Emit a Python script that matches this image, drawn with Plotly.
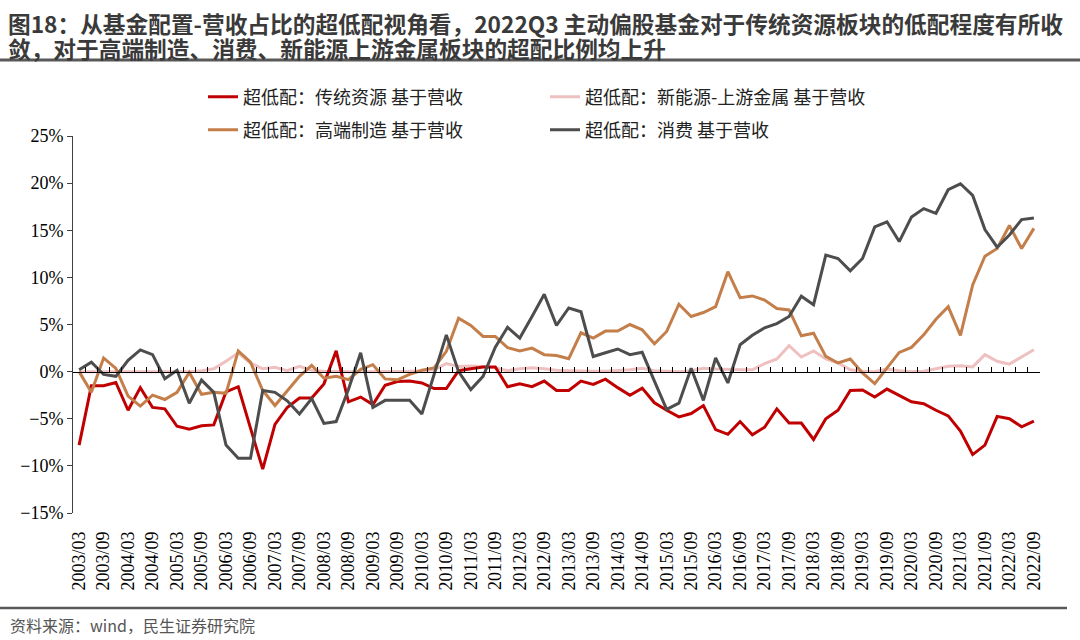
import plotly.graph_objects as go

# quarterly dates 2003/03 .. 2022/09
dates = [f"{y}/{m:02d}" for y in range(2003, 2023) for m in (3, 6, 9, 12)][:79]

trad = [-7.8, -1.5, -1.5, -1.15, -4.1, -1.7, -3.8, -3.95, -5.8, -6.1,
        -5.75, -5.65, -2.15, -1.6, -6.0, -10.35, -5.6, -3.8, -2.8, -2.8,
        -1.3, 2.2, -3.2, -2.7, -3.5, -1.45, -1.05, -1.0, -1.2, -1.8,
        -1.8, 0.1, 0.3, 0.5, 0.5, -1.6, -1.3, -1.6, -1.0, -2.0,
        -2.0, -1.0, -1.35, -0.8, -1.7, -2.5, -1.75, -3.3, -4.1, -4.8,
        -4.45, -3.6, -6.15, -6.65, -5.3, -6.7, -5.9, -3.95, -5.45, -5.45,
        -7.2, -5.0, -4.1, -2.0, -1.95, -2.7, -1.85, -2.5, -3.2, -3.4,
        -4.1, -4.7, -6.3, -8.8, -7.8, -4.75, -5.0, -5.85, -5.25]

newe = [0.0, 0.0, 0.0, 0.0, 0.05, 0.05, 0.05, 0.05, 0.0, 0.0,
        0.1, 0.3, 1.1, 2.0, 0.9, 0.3, 0.45, 0.1, 0.55, 0.15,
        0.05, 0.0, 0.0, 0.0, 0.0, 0.0, 0.0, 0.05, 0.1, 0.2,
        0.85, 0.55, 0.6, 0.55, 0.4, 0.1, 0.3, 0.4, 0.3, 0.15,
        0.1, 0.05, 0.05, 0.05, 0.1, 0.2, 0.35, 0.1, 0.05, 0.0,
        0.1, 0.35, 0.28, 0.2, 0.2, 0.2, 0.85, 1.34, 2.75, 1.55,
        2.2, 1.34, 0.92, 0.2, 0.05, 0.0, 0.28, 0.1, 0.0, 0.03,
        0.28, 0.56, 0.63, 0.5, 1.8, 1.1, 0.8, 1.55, 2.32]

high = [0.0, -2.2, 1.45, 0.35, -2.6, -3.66, -2.5, -2.96, -2.2, -0.1,
        -2.4, -2.2, -2.3, 2.2, 1.0, -2.0, -3.6, -2.1, -0.5, 0.67,
        -0.7, -0.5, -0.85, 0.25, 0.74, -0.77, -0.87, -0.3, 0.15, 0.4,
        2.15, 5.67, 4.9, 3.73, 3.73, 2.55, 2.2, 2.5, 1.8, 1.7,
        1.37, 4.12, 3.56, 4.3, 4.3, 5.0, 4.44, 2.95, 4.26, 7.15,
        5.85, 6.27, 6.9, 10.6, 7.85, 8.03, 7.6, 6.7, 6.55, 3.8,
        4.08, 1.62, 0.92, 1.34, -0.14, -1.27, 0.39, 2.04, 2.57, 3.9,
        5.56, 6.9, 3.84, 9.2, 12.25, 13.06, 15.5, 13.06, 15.2]

cons = [0.2, 1.0, -0.3, -0.5, 1.2, 2.3, 1.8, -0.75, 0.14, -3.35,
        -0.9, -2.2, -7.8, -9.2, -9.2, -2.0, -2.2, -3.1, -4.5, -2.85,
        -5.5, -5.3, -1.9, 2.0, -3.8, -3.05, -3.05, -3.05, -4.5, -0.3,
        3.9, 0.0, -1.9, -0.5, 2.6, 4.7, 3.56, 5.85, 8.2, 4.9,
        6.75, 6.35, 1.6, 2.0, 2.4, 1.8, 2.05, -1.0, -4.0, -3.35,
        0.35, -3.05, 1.45, -1.2, 2.85, 3.85, 4.65, 5.1, 5.85, 8.0,
        7.1, 12.36, 12.0, 10.7, 12.0, 15.35, 15.9, 13.8, 16.4, 17.3,
        16.8, 19.3, 19.93, 18.7, 15.07, 13.2, 14.5, 16.13, 16.3]

names = ["超低配：传统资源 基于营收", "超低配：新能源-上游金属 基于营收",
         "超低配：高端制造 基于营收", "超低配：消费 基于营收"]
colors = ["#C00000", "#EFC0C0", "#C47E4A", "#4D4D4D"]

tick_labels = dates[::2]
idx = list(range(len(dates)))

W, H = 1080, 640
L, R, T, B = 73, 40, 136, 127
pw, ph = W - L - R, H - T - B


def px(x):
    return (x - L) / pw


def py(y):
    return (H - B - y) / ph


fig = go.Figure()
# draw order: pink, red, orange, gray
order = [(1, "legend", 2), (0, "legend", 1), (2, "legend2", 1), (3, "legend2", 2)]
series = [trad, newe, high, cons]
for k, leg, rank in order:
    fig.add_trace(go.Scatter(
        x=idx, y=series[k], mode="lines", name=names[k],
        line=dict(color=colors[k], width=3),
        legend=leg, legendrank=rank, xaxis="x", yaxis="y"))

# helper trace so the zero-line axis with boundary ticks is drawn
fig.add_trace(go.Scatter(x=[None], y=[None], xaxis="x2", yaxis="y",
                         showlegend=False, hoverinfo="skip"))

legfont = dict(family="Noto Sans CJK SC", size=18, color="#222222")
fig.update_layout(
    width=W, height=H,
    margin=dict(l=L, r=R, t=T, b=B, autoexpand=False),
    paper_bgcolor="white", plot_bgcolor="white",
    showlegend=True,
    legend=dict(orientation="h", xref="container", yref="container",
                x=203 / W, y=1 - 97 / H, xanchor="left", yanchor="middle",
                entrywidthmode="pixels", entrywidth=297,
                font=legfont, bgcolor="rgba(0,0,0,0)"),
    legend2=dict(orientation="h", xref="container", yref="container",
                 x=203 / W, y=1 - 130 / H, xanchor="left", yanchor="middle",
                 entrywidthmode="pixels", entrywidth=297,
                 font=legfont, bgcolor="rgba(0,0,0,0)"),
    xaxis=dict(range=[-0.5, 78.5], tickmode="array", tickvals=idx[::2],
               ticktext=tick_labels, tickangle=-90, ticks="", showline=False,
               showgrid=False, zeroline=False, ticklabelstandoff=14,
               tickfont=dict(family="Liberation Serif", size=18, color="#000")),
    xaxis2=dict(overlaying="x", anchor="free", position=py(372), side="bottom",
                range=[-0.5, 78.5], tickmode="array",
                tickvals=[i - 0.5 for i in range(80)], ticks="inside",
                ticklen=5, tickwidth=1, tickcolor="#000", showticklabels=False,
                showline=True, linecolor="#000", linewidth=1,
                showgrid=False, zeroline=False),
    yaxis=dict(range=[-15, 25], tickmode="linear", tick0=-15, dtick=5,
               ticksuffix="%", showline=True, linecolor="#404040", linewidth=1,
               ticks="outside", ticklen=5, tickcolor="#404040",
               showgrid=False, zeroline=False,
               tickfont=dict(family="Liberation Serif", size=18, color="#000")),
)

title_font = dict(family="Noto Sans CJK SC", size=22.7, color="#3A3A3A")
fig.add_annotation(text="<b>图18：从基金配置-营收占比的超低配视角看，2022Q3 主动偏股基金对于传统资源板块的低配程度有所收</b>",
                   xref="paper", yref="paper", x=px(6), y=py(23),
                   xanchor="left", yanchor="middle", showarrow=False, font=title_font)
fig.add_annotation(text="<b>敛，对于高端制造、消费、新能源上游金属板块的超配比例均上升</b>",
                   xref="paper", yref="paper", x=px(6), y=py(49),
                   xanchor="left", yanchor="middle", showarrow=False, font=title_font)
fig.add_annotation(text="资料来源：wind，民生证券研究院",
                   xref="paper", yref="paper", x=px(8), y=py(625),
                   xanchor="left", yanchor="middle", showarrow=False,
                   font=dict(family="Noto Sans CJK SC", size=16, color="#555555"))

fig.add_shape(type="line", xref="paper", yref="paper",
              x0=px(0), x1=px(1080), y0=py(60), y1=py(60),
              line=dict(color="#595959", width=3))
fig.add_shape(type="line", xref="paper", yref="paper",
              x0=px(0), x1=px(1067), y0=py(608), y1=py(608),
              line=dict(color="#595959", width=2.5))

fig.write_html("out.html", config={"displayModeBar": False},
               post_script="document.body.style.margin='0';document.body.style.overflow='hidden';")
